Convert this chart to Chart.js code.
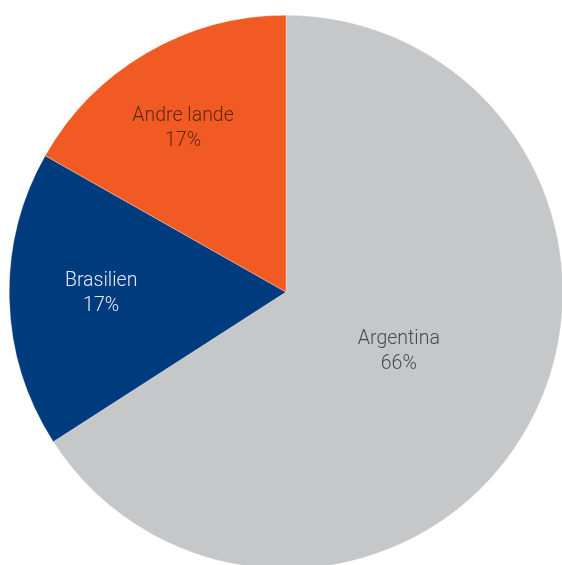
<!DOCTYPE html>
<html>
<head>
<meta charset="utf-8">
<script src="https://cdn.jsdelivr.net/npm/chart.js@4/dist/chart.umd.min.js"></script>
<style>
  html, body { margin: 0; padding: 0; background: #fff; overflow: hidden; width: 562px; height: 565px; }
  #wrap { position: absolute; left: 9px; top: 15px; width: 554px; height: 554px; }
</style>
</head>
<body>
<div id="wrap"><canvas id="c"></canvas></div>
<script>
const categories = ["Argentina", "Brasilien", "Andre lande"];
const values = [65.9, 17.3, 16.8];
const percentLabels = ["66%", "17%", "17%"];
const colors = ["#C6C7C8", "#003C7D", "#F15A22"];
const labelColors = ["#4a4a4a", "#e6ebf2", "#5e2712"];
const labelRadius = [0.456, 0.668, 0.707];
const labelAngleShift = [-2.0, 2.1, -1.5];

const labelPlugin = {
  id: "sliceLabels",
  afterDatasetsDraw(chart) {
    const ctx = chart.ctx;
    const meta = chart.getDatasetMeta(0);
    meta.data.forEach((arc, i) => {
      const p = arc.getProps(["x", "y", "startAngle", "endAngle", "outerRadius"], true);
      const mid = (p.startAngle + p.endAngle) / 2 + labelAngleShift[i] * Math.PI / 180;
      const r = p.outerRadius * labelRadius[i];
      const x = p.x + Math.cos(mid) * r;
      const y = p.y + Math.sin(mid) * r;
      ctx.save();
      ctx.fillStyle = labelColors[i];
      ctx.font = "300 19.5px Roboto";
      ctx.textAlign = "center";
      ctx.textBaseline = "middle";
      ctx.fillText(categories[i], x, y - 9);
      ctx.fillText(percentLabels[i], x, y + 15.5);
      ctx.restore();
    });
  }
};

new Chart(document.getElementById("c"), {
  type: "pie",
  data: {
    labels: categories,
    datasets: [{
      data: values,
      backgroundColor: colors,
      borderColor: "rgba(255,255,255,0.6)",
      borderWidth: 0.5
    }]
  },
  options: {
    responsive: true,
    maintainAspectRatio: false,
    animation: false,
    layout: { padding: 0 },
    plugins: {
      legend: { display: false },
      tooltip: { enabled: false }
    }
  },
  plugins: [labelPlugin]
});
</script>
</body>
</html>
